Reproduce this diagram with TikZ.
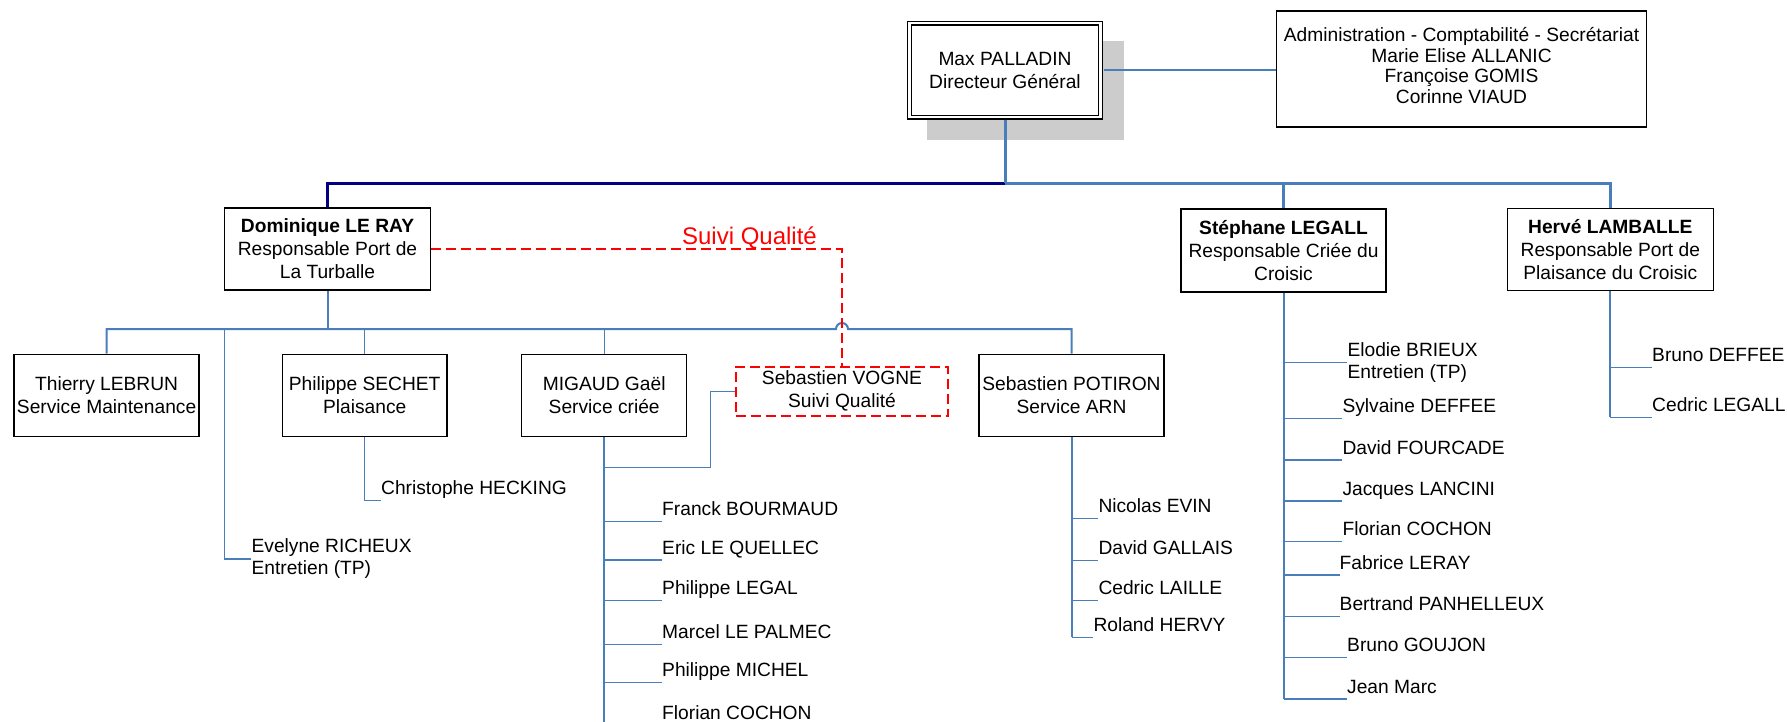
\documentclass[tikz,border=0pt]{standalone}
\usepackage{fontspec}
\setmainfont{Liberation Sans}
\usetikzlibrary{calc}
\definecolor{cblue}{HTML}{4A7EBB}
\definecolor{cnavy}{HTML}{000080}
\definecolor{cshadow}{HTML}{CCCCCC}
\newcommand\boxfont{\fontsize{19.2}{23}\selectfont}
\newcommand\adminfont{\fontsize{19.2}{20.5}\selectfont}
\newcommand\itemfont{\fontsize{19.2}{22}\selectfont}
\newcommand\qualfont{\fontsize{24}{28}\selectfont}
% #1 name, #2 parent node, #3 x of text, #4 y of branch, #5 text
\newcommand\orgmember[5]{%
  \node[item, anchor=base west] (#1) at (#3,#4-6) {#5};
  \coordinate (#1-b) at ([yshift=-6pt]#1.base west);
  \draw[sline] (#2.south |- #1-b) -- (#1-b);
}
\begin{document}
\begin{tikzpicture}[x=1pt,y=-1pt,
  box/.style={draw=black, line width=1.3pt, fill=white, align=center, inner sep=0pt, font=\boxfont},
  qbox/.style={draw=red, line width=2pt, dash pattern=on 10pt off 5pt, fill=white, align=center, inner sep=0pt, font=\boxfont},
  item/.style={inner sep=0pt, font=\itemfont, align=left},
  bus/.style={line width=3pt, cblue},
  navybus/.style={line width=3pt, cnavy},
  tline/.style={line width=2pt, cblue},
  sline/.style={line width=1.4pt, cblue},
  rdash/.style={draw=red, line width=2pt, dash pattern=on 10pt off 5pt},
]
\useasboundingbox (0,0) rectangle (1787,721);
\fill[white] (0,0) rectangle (1787,721);
\clip (0,0) rectangle (1787,721);

% shadow of the director box
\fill[cshadow] (927,41) rectangle (1124,140);

% top level
\node[box, double, double distance=2.4pt, minimum width=191pt, minimum height=94pt] (max) at (1005,70) {Max PALLADIN\\Directeur Général};
\node[box, font=\adminfont, minimum width=370pt, minimum height=116pt] (admin) at (1461.5,69) {Administration - Comptabilité - Secrétariat\\Marie Elise ALLANIC\\Françoise GOMIS\\Corinne VIAUD\rule[-7pt]{0pt}{0pt}};

% managers
\node[box, minimum width=206pt, minimum height=82pt] (dom) at (327.5,249) {\textbf{Dominique LE RAY}\\Responsable Port de\\La Turballe};
\node[box, minimum width=205pt, minimum height=83pt] (steph) at (1283.5,250.5) {\textbf{Stéphane LEGALL}\\Responsable Criée du\\Croisic};
\node[box, minimum width=206pt, minimum height=82pt] (herve) at (1610.3,249.2) {\textbf{Hervé LAMBALLE}\\Responsable Port de\\Plaisance du Croisic};

% second row
\node[box, minimum width=185pt, minimum height=82.4pt] (thierry) at (106.6,395.5) {Thierry LEBRUN\\Service Maintenance};
\node[box, minimum width=164.6pt, minimum height=82.4pt] (sechet) at (364.7,395.5) {Philippe SECHET\\Plaisance};
\node[box, minimum width=165pt, minimum height=82.4pt] (migaud) at (604.2,395.5) {MIGAUD Gaël\\Service criée};
\node[qbox, minimum width=212.6pt, minimum height=49.3pt] (vogne) at (842,391.3) {Sebastien VOGNE\\Suivi Qualité};
\node[box, minimum width=185pt, minimum height=82.4pt] (potiron) at (1071.5,395.5) {Sebastien POTIRON\\Service ARN};

% main bus
\coordinate (bj) at (1005,183);
\draw[navybus] (dom.north) |- (bj);
\draw[bus, shorten <=2.5pt] (max.south) -- (bj);
\draw[bus] (bj) -| (herve.north);
\draw[bus] (bj) -| (steph.north);
\draw[sline, shorten <=2.5pt] (max.east) -- (max.east -| admin.west);

% Dominique sub bus
\coordinate (sb) at (327.5,329);
\coordinate (jmp) at ($(vogne.north |- sb)+(-6,0)$);
\draw[sline, line width=2pt] (dom.south) -- (sb);
\draw[sline, line width=2pt] (thierry.north) |- (jmp) arc[start angle=180, end angle=360, radius=6] -| (potiron.north);
\draw[sline] (sechet.north |- sb) -- (sechet.north);
\draw[sline] (migaud.north |- sb) -- (migaud.north);
\coordinate (evj) at (224.5,329);
\node[item, anchor=west] (evelyne) at (251.4,559) {Evelyne RICHEUX\\Entretien (TP)};
\draw[sline] (evj) |- (evelyne.west);

% quality link
\draw[rdash] (dom.east) -| (vogne.north);
\node[text=red, font=\qualfont, anchor=base, inner sep=0pt] (sqlabel) at (749.5,244) {Suivi Qualité};

% Sechet
\orgmember{chris}{sechet}{381}{500.7}{Christophe HECKING}
\draw[sline] (sechet.south) -- (sechet.south |- chris-b);

% Migaud
\coordinate (mv) at (604.2,467.7);
\draw[sline] (mv) -- ++(106.5,0) |- (vogne.west);
\coordinate (bottom) at (0,725);
\draw[tline] (migaud.south) -- (migaud.south |- bottom);
\orgmember{franck}{migaud}{662}{521.7}{Franck BOURMAUD}
\orgmember{eric}{migaud}{662}{560}{Eric LE QUELLEC}
\orgmember{plegal}{migaud}{662}{600.7}{Philippe LEGAL}
\orgmember{marcel}{migaud}{662}{644.3}{Marcel LE PALMEC}
\orgmember{pmichel}{migaud}{662}{682.7}{Philippe MICHEL}
\node[item, anchor=base west] (fcochon) at (662,719) {Florian COCHON};

% Potiron
\orgmember{nicolas}{potiron}{1098.3}{518.7}{Nicolas EVIN}
\orgmember{dgallais}{potiron}{1098.3}{560.3}{David GALLAIS}
\orgmember{claille}{potiron}{1098.3}{600.7}{Cedric LAILLE}
\orgmember{roland}{potiron}{1093.3}{637.3}{Roland HERVY}
\draw[tline] (potiron.south) -- (potiron.south |- roland-b);

% Stephane
\node[item, anchor=west] (elodie) at (1347.3,362.7) {Elodie BRIEUX\\Entretien (TP)};
\draw[sline] (steph.south |- elodie.west) -- (elodie.west);
\orgmember{sylvaine}{steph}{1342.3}{418.3}{Sylvaine DEFFEE}
\orgmember{fourcade}{steph}{1342.3}{460}{David FOURCADE}
\orgmember{lancini}{steph}{1342.3}{501}{Jacques LANCINI}
\orgmember{fcochonb}{steph}{1342.3}{541.7}{Florian COCHON}
\orgmember{leray}{steph}{1339.5}{575}{Fabrice LERAY}
\orgmember{panhelleux}{steph}{1339.5}{616.7}{Bertrand PANHELLEUX}
\orgmember{goujon}{steph}{1347}{657.7}{Bruno GOUJON}
\orgmember{jeanmarc}{steph}{1347}{699}{Jean Marc}
\draw[tline] (steph.south) -- (steph.south |- jeanmarc-b);

% Herve
\orgmember{bdeffee}{herve}{1652}{367.3}{Bruno DEFFEE}
\orgmember{clegall}{herve}{1652}{417.3}{Cedric LEGALL}
\draw[tline] (herve.south) -- (herve.south |- clegall-b);
\end{tikzpicture}
\end{document}
